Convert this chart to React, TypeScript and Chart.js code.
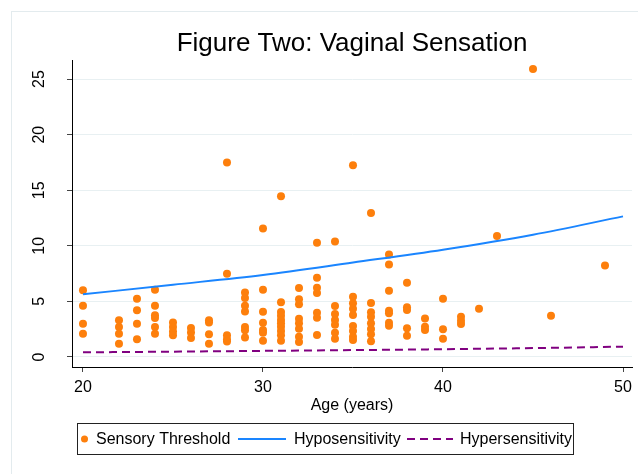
import React, { useEffect, useRef } from 'react';
import { Chart, registerables } from 'chart.js';

Chart.register(...registerables);

// ---- data ----
const sensoryAges = [
  20, 20, 20, 20,
  22, 22, 22, 22,
  23, 23, 23, 23,
  24, 24, 24, 24, 24, 24,
  25, 25, 25, 25,
  26, 26, 26,
  27, 27, 27, 27,
  28, 28, 28, 28, 28,
  29, 29, 29, 29, 29, 29, 29,
  30, 30, 30, 30, 30, 30, 30,
  31, 31, 31, 31, 31, 31, 31, 31, 31, 31,
  32, 32, 32, 32, 32, 32, 32, 32,
  33, 33, 33, 33, 33, 33, 33,
  34, 34, 34, 34, 34, 34, 34,
  35, 35, 35, 35, 35, 35, 35, 35, 35,
  36, 36, 36, 36, 36, 36, 36, 36,
  37, 37, 37, 37, 37, 37, 37,
  38, 38, 38, 38, 38,
  39, 39, 39,
  40, 40, 40,
  41, 41, 41,
  42,
  43,
  45,
  46,
  49,
];
const sensoryValues = [
  6.0, 4.6, 3.0, 2.1,
  3.3, 2.7, 2.1, 1.2,
  5.25, 4.2, 3.0, 1.6,
  6.05, 4.6, 3.75, 3.5, 2.7, 2.1,
  3.1, 2.7, 2.3, 1.95,
  2.6, 2.2, 1.7,
  3.3, 3.1, 2.05, 1.2,
  17.5, 7.5, 1.95, 1.6, 1.4,
  5.8, 5.3, 4.6, 4.1, 2.7, 2.4, 1.75,
  11.55, 6.05, 4.07, 3.08, 2.43, 2.19, 1.47,
  14.45, 4.92, 4.05, 3.7, 3.33, 3.03, 2.72, 2.34, 1.95, 1.47,
  6.2, 5.2, 4.74, 3.45, 3.03, 2.55, 1.83, 1.35,
  10.28, 7.13, 6.23, 5.75, 3.98, 3.53, 1.98,
  10.4, 4.59, 3.87, 3.33, 2.9, 2.19, 1.65,
  17.24, 5.42, 4.83, 4.35, 3.78, 2.79, 2.34, 1.83, 1.53,
  12.95, 4.86, 4.02, 3.62, 3.03, 2.52, 2.04, 1.41,
  9.23, 8.33, 5.96, 4.16, 3.93, 3.08, 2.81,
  6.68, 4.47, 4.23, 2.58, 1.92,
  3.47, 2.72, 2.43,
  5.24, 2.49, 1.65,
  3.63, 3.27, 2.97,
  4.35,
  10.88,
  25.9,
  3.72,
  8.24,
];
const fitAges = [20, 25, 30, 35, 40, 45, 50];
const hypoValues = [5.64, 6.5, 7.38, 8.5, 9.65, 11.0, 12.65];
const hyperValues = [0.42, 0.48, 0.55, 0.62, 0.7, 0.8, 0.93];

const xTickValues = [20, 30, 40, 50];
const yTickValues = [0, 5, 10, 15, 20, 25];
const seriesLabels = ['Sensory Threshold', 'Hyposensitivity', 'Hypersensitivity'];
const titleText = 'Figure Two: Vaginal Sensation';
const xAxisLabel = 'Age (years)';

const FONT = '"Liberation Sans", Arial, Helvetica, sans-serif';
const ORANGE = '#fd7f0c';
const BLUE = '#1a85ff';
const PURPLE = '#800080';

const stataPlugin = {
  id: 'stataDecor',
  beforeDraw(chart: any) {
    const ctx = chart.ctx;
    ctx.save();
    ctx.fillStyle = '#ffffff';
    ctx.fillRect(0, 0, chart.width, chart.height);
    ctx.strokeStyle = '#e3ebee';
    ctx.lineWidth = 1;
    ctx.strokeRect(11.5, 11.5, chart.width + 20, chart.height + 20);
    ctx.restore();
  },
  afterDraw(chart: any) {
    const ctx = chart.ctx;
    const ds = chart.data.datasets;
    ctx.save();
    // legend box
    const bx = 77.5, by = 423.5, bw = 496, bh = 31;
    ctx.strokeStyle = '#222';
    ctx.lineWidth = 1;
    ctx.strokeRect(bx, by, bw, bh);
    const cy = 439;
    ctx.font = `16px ${FONT}`;
    ctx.fillStyle = '#000';
    ctx.textBaseline = 'middle';
    ctx.textAlign = 'left';
    // item 1: dot
    ctx.beginPath();
    ctx.fillStyle = ds[0].backgroundColor;
    ctx.arc(84.5, cy, 3.5, 0, Math.PI * 2);
    ctx.fill();
    ctx.fillStyle = '#000';
    ctx.fillText(ds[0].label, 96, cy + 1);
    // item 2: solid line
    ctx.beginPath();
    ctx.strokeStyle = ds[1].borderColor;
    ctx.lineWidth = 2;
    ctx.moveTo(238, cy);
    ctx.lineTo(286, cy);
    ctx.stroke();
    ctx.fillText(ds[1].label, 294, cy + 1);
    // item 3: dashed line
    ctx.beginPath();
    ctx.strokeStyle = ds[2].borderColor;
    ctx.setLineDash([8, 5]);
    ctx.moveTo(407, cy);
    ctx.lineTo(453, cy);
    ctx.stroke();
    ctx.setLineDash([]);
    ctx.fillText(ds[2].label, 460, cy + 1);
    ctx.restore();
  },
};

export default function App() {
  const ref = useRef<HTMLCanvasElement | null>(null);

  useEffect(() => {
    if (!ref.current) return;
    const chart = new Chart(ref.current, {
      type: 'scatter',
      data: {
        datasets: [
          {
            label: seriesLabels[0],
            data: sensoryAges.map((a, i) => ({ x: a, y: sensoryValues[i] })),
            backgroundColor: ORANGE,
            borderColor: ORANGE,
            pointRadius: 4,
            pointBorderWidth: 0,
            order: 3,
          },
          {
            label: seriesLabels[1],
            data: fitAges.map((a, i) => ({ x: a, y: hypoValues[i] })),
            showLine: true,
            borderColor: BLUE,
            backgroundColor: BLUE,
            borderWidth: 2,
            pointRadius: 0,
            cubicInterpolationMode: 'monotone',
            order: 2,
          },
          {
            label: seriesLabels[2],
            data: fitAges.map((a, i) => ({ x: a, y: hyperValues[i] })),
            showLine: true,
            borderColor: PURPLE,
            backgroundColor: PURPLE,
            borderWidth: 2,
            borderDash: [8, 5],
            pointRadius: 0,
            cubicInterpolationMode: 'monotone',
            order: 1,
          },
        ] as any,
      },
      options: {
        animation: false,
        responsive: false,
        layout: { padding: { left: 0, right: 5, top: 0, bottom: 57 } },
        plugins: {
          legend: { display: false },
          tooltip: { enabled: false },
          title: {
            display: true,
            text: titleText,
            fullSize: false,
            color: '#000',
            font: { family: FONT, size: 26, weight: 'normal' },
            padding: { top: 28, bottom: 1 },
          },
        },
        scales: {
          x: {
            type: 'linear',
            min: 19.39,
            max: 50.5,
            afterBuildTicks: (s: any) => {
              s.ticks = xTickValues.map((v) => ({ value: v }));
            },
            afterFit: (s: any) => {
              s.height = 50;
            },
            ticks: {
              color: '#000',
              font: { family: FONT, size: 16 },
              padding: 6,
              maxRotation: 0,
            },
            grid: {
              drawOnChartArea: false,
              drawTicks: true,
              tickLength: 5,
              tickColor: '#444',
            },
            border: { color: '#000', width: 1 },
            title: {
              display: true,
              text: xAxisLabel,
              color: '#000',
              font: { family: FONT, size: 16 },
              padding: { top: 0, bottom: 2 },
            },
          },
          y: {
            type: 'linear',
            min: -0.9,
            max: 26.7,
            afterBuildTicks: (s: any) => {
              s.ticks = yTickValues.map((v) => ({ value: v }));
            },
            afterFit: (s: any) => {
              s.width = 72;
            },
            ticks: {
              color: '#000',
              font: { family: FONT, size: 16 },
              minRotation: 90,
              maxRotation: 90,
              crossAlign: 'center',
              padding: 19,
            },
            grid: {
              color: '#e8f0f2',
              lineWidth: 1,
              tickLength: 5,
              tickColor: '#444',
            },
            border: { color: '#000', width: 1 },
          },
        },
      } as any,
      plugins: [stataPlugin],
    });
    return () => chart.destroy();
  }, []);

  return (
    <div style={{ position: 'absolute', left: 0, top: 0, width: 638, height: 474, background: '#fff' }}>
      <canvas ref={ref} width={638} height={474} style={{ display: 'block' }} />
    </div>
  );
}
